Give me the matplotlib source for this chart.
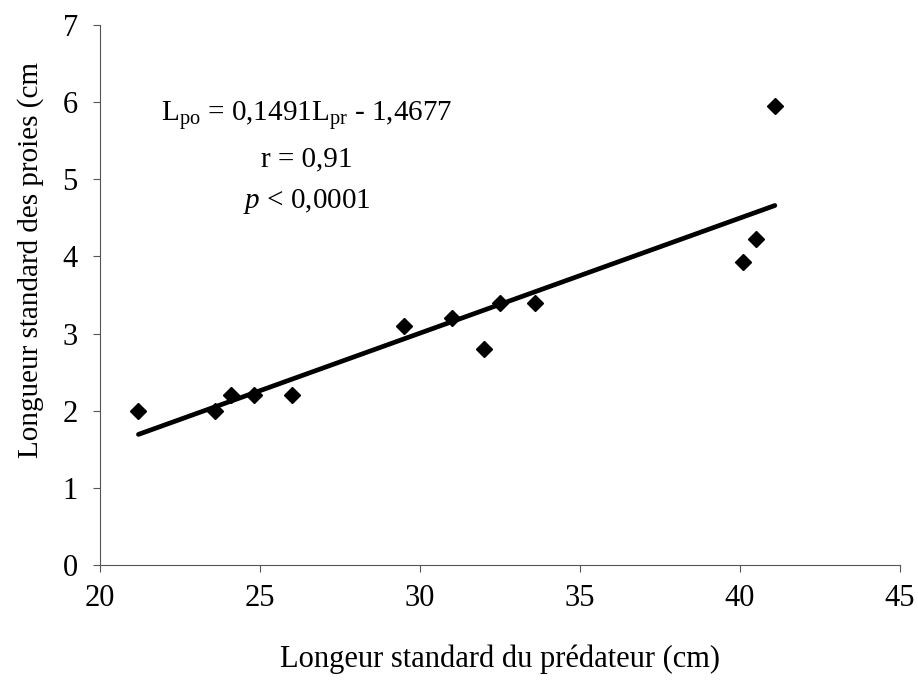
import matplotlib
matplotlib.use("Agg")
import matplotlib.pyplot as plt
import numpy as np

# Data
predator_len = [21.2, 23.6, 24.1, 24.8, 26.0, 29.5, 31.0, 32.0, 32.5, 33.6, 40.1, 40.5, 41.1]
prey_len = [2.0, 2.0, 2.2, 2.2, 2.2, 3.1, 3.2, 2.8, 3.4, 3.4, 3.93, 4.23, 5.95]
slope = 0.1491
intercept = -1.4677
x_ticks = [20, 25, 30, 35, 40, 45]
y_ticks = [0, 1, 2, 3, 4, 5, 6, 7]

plt.rcParams['font.family'] = ['Liberation Serif', 'DejaVu Serif']
plt.rcParams['mathtext.fontset'] = 'custom'
plt.rcParams['mathtext.rm'] = 'Liberation Serif'
plt.rcParams['mathtext.it'] = 'Liberation Serif:italic'

fig = plt.figure(figsize=(9.18, 6.81), dpi=100)
ax = fig.add_axes([0.109, 0.1703, 0.871, 0.793])

xs = np.array([min(predator_len), max(predator_len)])
ax.plot(xs, slope * xs + intercept, color='black', lw=3.4, solid_capstyle='round', zorder=2)
ax.plot(predator_len, prey_len, linestyle='none', marker='D', ms=8.5,
        color='black', zorder=3)

ax.set_xlim(20, 45)
ax.set_ylim(0, 7)
ax.set_xticks(x_ticks)
ax.set_yticks(y_ticks)
ax.tick_params(axis='both', labelsize=22, direction='out', length=5, width=0.8,
               color='#555555')
ax.tick_params(axis='x', pad=9)
ax.tick_params(axis='y', pad=11)
for s in ['top', 'right']:
    ax.spines[s].set_visible(False)
for s in ['left', 'bottom']:
    ax.spines[s].set_color('#555555')
    ax.spines[s].set_linewidth(0.8)

ax.set_xlabel('Longeur standard du prédateur (cm)', fontsize=22, labelpad=22)
ax.set_ylabel('Longueur standard des proies (cm', fontsize=21)
ax.yaxis.set_label_coords(-0.07, 0.565)

ax.text(0.259, 0.833, r'L$_{\mathrm{po}}$ = 0,1491L$_{\mathrm{pr}}$ - 1,4677',
        transform=ax.transAxes, ha='center', va='center', fontsize=21)
ax.text(0.259, 0.752, 'r = 0,91', transform=ax.transAxes, ha='center',
        va='center', fontsize=21)
ax.text(0.259, 0.674, r'$p$ < 0,0001', transform=ax.transAxes, ha='center',
        va='center', fontsize=21)

fig.savefig('out.png', dpi=100)
